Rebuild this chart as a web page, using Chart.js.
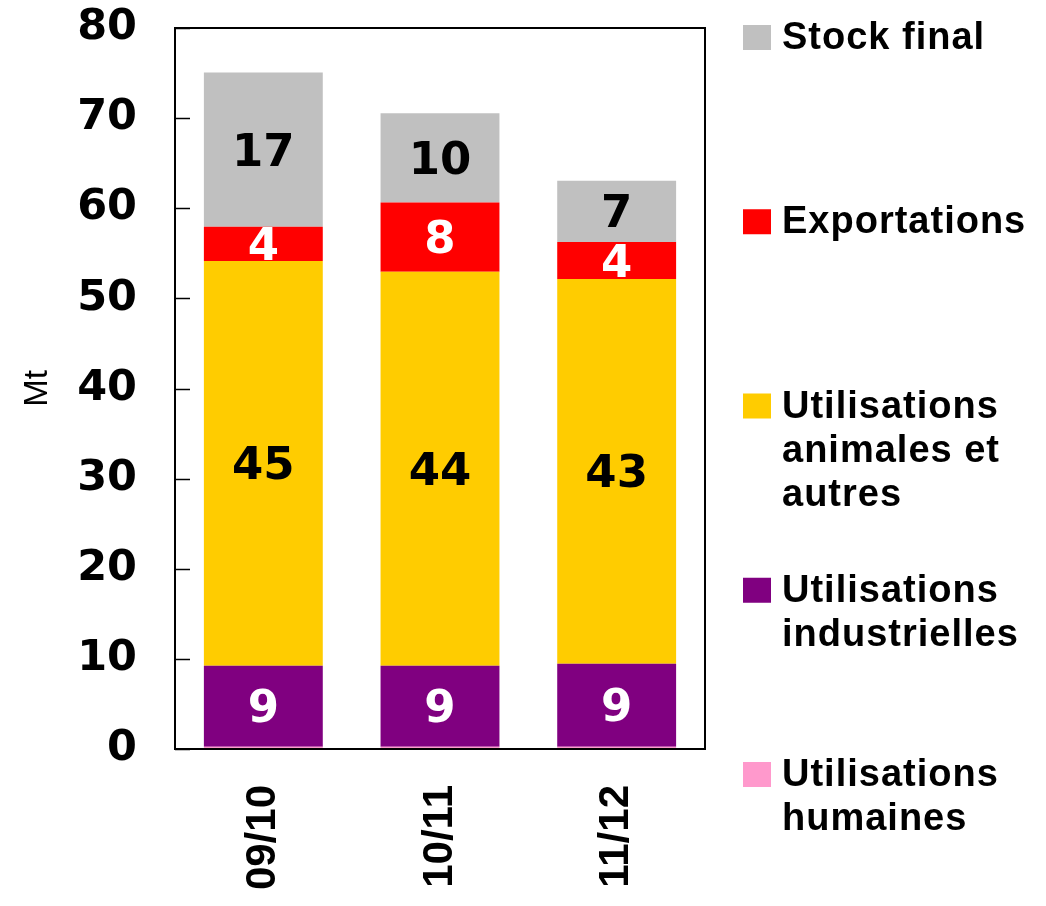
<!DOCTYPE html>
<html><head><meta charset="utf-8">
<script src="https://cdn.jsdelivr.net/npm/chart.js@4/dist/chart.umd.min.js"></script>
<style>html,body{margin:0;padding:0;background:#fff}#wrap{width:1046px;height:906px;position:relative}</style>
</head><body><div id="wrap"><canvas id="c" width="1046" height="906"></canvas></div>
<script>
// ---- data ----
const categories = ['09/10', '10/11', '11/12'];
const humaines = [0.25, 0.25, 0.25];
const industrielles = [9.0, 9.0, 9.2];
const animales = [44.9, 43.7, 42.7];
const exportations = [3.8, 7.7, 4.1];
const stockFinal = [17.1, 9.9, 6.8];
const yTickValues = [0, 10, 20, 30, 40, 50, 60, 70, 80];
const seriesNames = ['Utilisations humaines', 'Utilisations industrielles', 'Utilisations animales et autres', 'Exportations', 'Stock final'];
const legendLines = [['Utilisations', 'humaines'], ['Utilisations', 'industrielles'], ['Utilisations', 'animales et', 'autres'], ['Exportations'], ['Stock final']];
const seriesColors = ['#FF99CC', '#800080', '#FFCC00', '#FF0000', '#C0C0C0'];
const labelColors = [null, '#FFFFFF', '#000000', '#FFFFFF', '#000000'];
const yTitle = 'Mt';

const seriesData = [humaines, industrielles, animales, exportations, stockFinal];

const PLOT = {left: 175, right: 705, top: 28, bottom: 749};

const frame = {
  id: 'frame',
  afterDatasetsDraw(chart) {
    const ctx = chart.ctx, a = chart.chartArea, y = chart.scales.y;
    ctx.save();
    ctx.strokeStyle = '#000';
    ctx.lineWidth = 2;
    ctx.strokeRect(a.left, a.top, a.right - a.left, a.bottom - a.top);
    ctx.lineWidth = 1.5;
    y.ticks.forEach(t => {
      const py = Math.round(y.getPixelForValue(t.value)) + 0.5;
      ctx.beginPath();
      ctx.moveTo(a.left, py);
      ctx.lineTo(a.left + 15, py);
      ctx.stroke();
    });
    ctx.restore();
  }
};

const barLabels = {
  id: 'barLabels',
  afterDatasetsDraw(chart) {
    const ctx = chart.ctx;
    ctx.save();
    ctx.font = 'bold 45px "DejaVu Sans"';
    ctx.textAlign = 'center';
    ctx.textBaseline = 'alphabetic';
    chart.data.datasets.forEach((ds, i) => {
      if (!labelColors[i]) return;
      const meta = chart.getDatasetMeta(i);
      meta.data.forEach((el, j) => {
        const cy = (el.y + el.base) / 2;
        ctx.fillStyle = labelColors[i];
        ctx.fillText(String(Math.round(ds.data[j])), el.x, cy + 16);
      });
    });
    ctx.restore();
  }
};

const sideLegend = {
  id: 'sideLegend',
  afterDraw(chart) {
    const ctx = chart.ctx;
    ctx.save();
    ctx.font = 'bold 38px "Liberation Sans"';
    ctx.textAlign = 'left';
    ctx.textBaseline = 'alphabetic';
    try { ctx.letterSpacing = '1px'; } catch (e) {}
    const n = seriesNames.length;
    for (let k = 0; k < n; k++) {
      const i = n - 1 - k; // top to bottom: stock first
      const base = 49 + k * 184.25;
      ctx.fillStyle = seriesColors[i];
      ctx.fillRect(743, base - 24, 28, 25);
      ctx.fillStyle = '#000';
      legendLines[i].forEach((line, li) => {
        ctx.fillText(line, 782, base + li * 44);
      });
    }
    ctx.restore();
  }
};

new Chart(document.getElementById('c'), {
  type: 'bar',
  data: {
    labels: categories,
    datasets: seriesData.map((d, i) => ({
      label: seriesNames[i],
      data: d,
      backgroundColor: seriesColors[i],
      borderWidth: 0,
      barPercentage: 0.673,
      categoryPercentage: 1.0
    }))
  },
  options: {
    responsive: false,
    animation: false,
    devicePixelRatio: 1,
    layout: {padding: {left: 0, top: PLOT.top, right: 1046 - PLOT.right, bottom: 0}},
    plugins: {legend: {display: false}, tooltip: {enabled: true}},
    scales: {
      x: {
        stacked: true,
        grid: {display: false, drawTicks: false},
        border: {display: false},
        ticks: {
          color: '#000',
          font: {family: '"Liberation Sans", Arial, sans-serif', weight: 'bold', size: 42},
          minRotation: 90, maxRotation: 90,
          padding: 36,
          autoSkip: false
        },
        afterFit(s) { s.height = 906 - PLOT.bottom; s.paddingLeft = 0; s.paddingRight = 0; s.paddingTop = 0; s.paddingBottom = 0; }
      },
      y: {
        stacked: true,
        min: 0, max: 80,
        afterBuildTicks(s) { s.ticks = yTickValues.map(v => ({value: v})); },
        grid: {display: false, drawTicks: false},
        border: {display: false},
        ticks: {
          color: '#000',
          font: {family: '"DejaVu Sans", sans-serif', weight: 'bold', size: 43},
          padding: 38
        },
        title: {
          display: true,
          text: yTitle,
          color: '#000',
          font: {family: '"Liberation Sans", Arial, sans-serif', size: 33, weight: 'normal'},
          padding: {top: 18, bottom: 0}
        },
        afterFit(s) { s.width = PLOT.left; s.paddingTop = 0; s.paddingBottom = 0; s.paddingLeft = 0; s.paddingRight = 0; }
      }
    }
  },
  plugins: [frame, barLabels, sideLegend]
});
</script>
</body></html>
